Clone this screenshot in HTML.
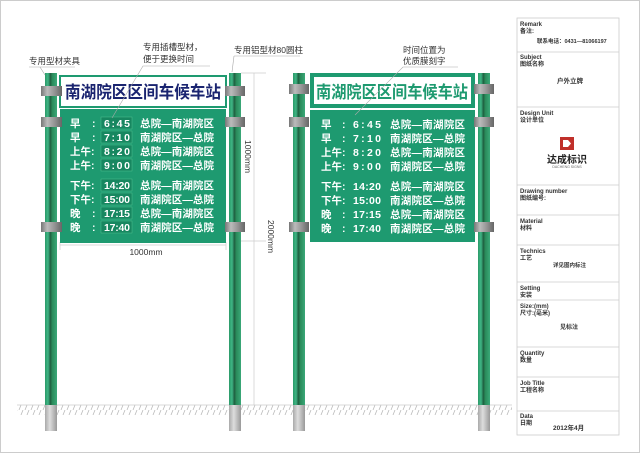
<!DOCTYPE html>
<html><head><meta charset="utf-8"><style>
html,body{margin:0;padding:0;background:#fff;}
svg{display:block;font-family:"Liberation Sans","Noto Sans CJK SC",sans-serif;}
</style></head><body>
<svg width="640" height="453" viewBox="0 0 640 453" xmlns="http://www.w3.org/2000/svg">
<defs>
<linearGradient id="pole" x1="0" x2="1" y1="0" y2="0">
<stop offset="0" stop-color="#2a9a68"/><stop offset="0.25" stop-color="#3fb585"/><stop offset="0.45" stop-color="#1f5e40"/><stop offset="0.6" stop-color="#2a8a5a"/><stop offset="1" stop-color="#3aa878"/>
</linearGradient>
<linearGradient id="clamp" x1="0" x2="1" y1="0" y2="0">
<stop offset="0" stop-color="#777"/><stop offset="0.3" stop-color="#bbb"/><stop offset="0.6" stop-color="#999"/><stop offset="1" stop-color="#666"/>
</linearGradient>
<linearGradient id="base" x1="0" x2="1" y1="0" y2="0">
<stop offset="0" stop-color="#aaa"/><stop offset="0.4" stop-color="#ddd"/><stop offset="1" stop-color="#999"/>
</linearGradient>
<pattern id="hatch" width="6" height="10" patternUnits="userSpaceOnUse">
<line x1="5" y1="0" x2="1" y2="10" stroke="#bbb" stroke-width="0.8"/>
</pattern>
</defs>
<rect x="0.5" y="0.5" width="639" height="452" fill="#fff" stroke="#ccc"/>

<!-- ground -->
<rect x="17" y="405" width="495" height="10" fill="url(#hatch)"/>
<line x1="17" y1="405" x2="512" y2="405" stroke="#ccc" stroke-width="0.8"/>

<!-- poles -->
<g>
<rect x="45" y="73" width="12" height="332" fill="url(#pole)"/>
<rect x="229" y="73" width="12" height="332" fill="url(#pole)"/>
<rect x="293" y="73" width="12" height="332" fill="url(#pole)"/>
<rect x="478" y="73" width="12" height="332" fill="url(#pole)"/>
<rect x="45" y="405" width="12" height="26" fill="url(#base)"/>
<rect x="229" y="405" width="12" height="26" fill="url(#base)"/>
<rect x="293" y="405" width="12" height="26" fill="url(#base)"/>
<rect x="478" y="405" width="12" height="26" fill="url(#base)"/>
</g>

<!-- dimension lines -->
<g stroke="#ccc" stroke-width="0.7" fill="none">
<line x1="254" y1="73" x2="254" y2="241"/>
<line x1="241" y1="73" x2="266" y2="73"/>
<line x1="241" y1="241" x2="266" y2="241"/>
<line x1="254" y1="241" x2="254" y2="405"/>
<line x1="60" y1="245" x2="226" y2="245"/>
<line x1="60" y1="242" x2="60" y2="250"/>
<line x1="226" y1="242" x2="226" y2="250"/>
</g>
<text x="146" y="255" font-size="8.5" fill="#333" text-anchor="middle">1000mm</text>
<text transform="translate(245,140) rotate(90)" font-size="8.5" fill="#333">1000mm</text>
<text transform="translate(268,220) rotate(90)" font-size="8.5" fill="#333">2000mm</text>

<!-- LEFT SIGN -->
<rect x="60" y="76" width="166" height="31" fill="#fff" stroke="#1e9a70" stroke-width="2"/>
<text x="143" y="98" font-size="17" font-weight="bold" fill="#1a2470" text-anchor="middle" textLength="156" lengthAdjust="spacingAndGlyphs">南湖院区区间车候车站</text>
<rect x="60" y="109" width="166" height="131" fill="#1e9a70"/>
<rect x="60" y="240" width="166" height="3" fill="#1e9a70"/>

<!-- RIGHT SIGN -->
<rect x="310" y="73" width="165" height="35" fill="#1e9a70"/>
<rect x="314" y="77" width="157" height="27" fill="#fff"/>
<text x="392" y="98" font-size="17" font-weight="bold" fill="#1e9a70" text-anchor="middle" textLength="152" lengthAdjust="spacingAndGlyphs">南湖院区区间车候车站</text>
<rect x="310" y="110" width="165" height="132" fill="#1e9a70"/>

<!-- clamps -->
<g fill="url(#clamp)">
<rect x="41" y="86" width="21" height="10"/><rect x="41" y="117" width="21" height="10"/><rect x="41" y="222" width="21" height="10"/>
<rect x="225" y="86" width="20" height="10"/><rect x="225" y="117" width="20" height="10"/><rect x="225" y="222" width="20" height="10"/>
<rect x="289" y="84" width="20" height="10"/><rect x="289" y="117" width="20" height="10"/><rect x="289" y="222" width="20" height="10"/>
<rect x="474" y="84" width="20" height="10"/><rect x="474" y="117" width="20" height="10"/><rect x="474" y="222" width="20" height="10"/>
</g>

<!-- rows left -->
<g font-size="10.5" font-weight="bold" fill="#fff">
<g fill="#178760" stroke="#4fbf8f" stroke-width="0.5">
<rect x="101" y="117" width="31" height="12"/><rect x="101" y="131" width="31" height="12"/><rect x="101" y="145" width="31" height="12"/><rect x="101" y="159" width="31" height="12"/>
<rect x="101" y="179" width="31" height="12"/><rect x="101" y="193" width="31" height="12"/><rect x="101" y="207" width="31" height="12"/><rect x="101" y="221" width="31" height="12"/>
</g>
<text x="70" y="127">早</text><text x="92" y="127">:</text><text x="104" y="127" textLength="26">6:45</text><text x="140" y="127" textLength="74">总院—南湖院区</text>
<text x="70" y="141">早</text><text x="92" y="141">:</text><text x="104" y="141" textLength="26">7:10</text><text x="140" y="141" textLength="74">南湖院区—总院</text>
<text x="70" y="155">上午:</text><text x="104" y="155" textLength="26">8:20</text><text x="140" y="155" textLength="74">总院—南湖院区</text>
<text x="70" y="169">上午:</text><text x="104" y="169" textLength="26">9:00</text><text x="140" y="169" textLength="74">南湖院区—总院</text>
<text x="70" y="189">下午:</text><text x="104" y="189" textLength="26">14:20</text><text x="140" y="189" textLength="74">总院—南湖院区</text>
<text x="70" y="203">下午:</text><text x="104" y="203" textLength="26">15:00</text><text x="140" y="203" textLength="74">南湖院区—总院</text>
<text x="70" y="217">晚</text><text x="92" y="217">:</text><text x="104" y="217" textLength="26">17:15</text><text x="140" y="217" textLength="74">总院—南湖院区</text>
<text x="70" y="231">晚</text><text x="92" y="231">:</text><text x="104" y="231" textLength="26">17:40</text><text x="140" y="231" textLength="74">南湖院区—总院</text>
</g>

<!-- rows right -->
<g font-size="10.5" font-weight="bold" fill="#fff">
<text x="321" y="128">早</text><text x="342" y="128">:</text><text x="353" y="128" textLength="28">6:45</text><text x="390" y="128" textLength="75">总院—南湖院区</text>
<text x="321" y="142">早</text><text x="342" y="142">:</text><text x="353" y="142" textLength="28">7:10</text><text x="390" y="142" textLength="75">南湖院区—总院</text>
<text x="321" y="156">上午:</text><text x="353" y="156" textLength="28">8:20</text><text x="390" y="156" textLength="75">总院—南湖院区</text>
<text x="321" y="170">上午:</text><text x="353" y="170" textLength="28">9:00</text><text x="390" y="170" textLength="75">南湖院区—总院</text>
<text x="321" y="190">下午:</text><text x="353" y="190" textLength="28">14:20</text><text x="390" y="190" textLength="75">总院—南湖院区</text>
<text x="321" y="204">下午:</text><text x="353" y="204" textLength="28">15:00</text><text x="390" y="204" textLength="75">南湖院区—总院</text>
<text x="321" y="218">晚</text><text x="342" y="218">:</text><text x="353" y="218" textLength="28">17:15</text><text x="390" y="218" textLength="75">总院—南湖院区</text>
<text x="321" y="232">晚</text><text x="342" y="232">:</text><text x="353" y="232" textLength="28">17:40</text><text x="390" y="232" textLength="75">南湖院区—总院</text>
</g>

<!-- annotations -->
<g font-size="8.5" fill="#333">
<text x="29" y="64">专用型材夹具</text>
<text x="143" y="50">专用插槽型材，</text>
<text x="143" y="62">便于更换时间</text>
<text x="234" y="53">专用铝型材80圆柱</text>
<text x="403" y="53">时间位置为</text>
<text x="403" y="64">优质膜刻字</text>
</g>
<g stroke="#aaa" stroke-width="0.6" fill="none">
<polyline points="29,67 75,67"/><line x1="45" y1="75" x2="40" y2="67"/>
<polyline points="210,66 143,66 112,118"/>
<polyline points="234,56 300,56"/><line x1="234" y1="56" x2="232" y2="72"/>
<polyline points="458,67 403,67 355,115"/>
</g>

<!-- title block -->
<g stroke="#ccc" stroke-width="0.8" fill="none">
<rect x="517" y="18" width="102" height="417"/>
<line x1="517" y1="52" x2="619" y2="52"/><line x1="517" y1="107" x2="619" y2="107"/>
<line x1="517" y1="185" x2="619" y2="185"/><line x1="517" y1="215" x2="619" y2="215"/>
<line x1="517" y1="245" x2="619" y2="245"/><line x1="517" y1="282" x2="619" y2="282"/>
<line x1="517" y1="300" x2="619" y2="300"/><line x1="517" y1="347" x2="619" y2="347"/>
<line x1="517" y1="377" x2="619" y2="377"/><line x1="517" y1="411" x2="619" y2="411"/>
</g>
<g font-size="6" font-weight="bold" fill="#333">
<text x="520" y="26">Remark</text><text x="520" y="33">备注:</text>
<text x="537" y="43" font-size="5.5">联系电话：0431—81066197</text>
<text x="520" y="59">Subject</text><text x="520" y="66">图纸名称</text>
<text x="557" y="83" font-size="6.5">户外立牌</text>
<text x="520" y="115">Design Unit</text><text x="520" y="122">设计单位</text>
<text x="520" y="193">Drawing number</text><text x="520" y="200">图纸编号:</text>
<text x="520" y="223">Material</text><text x="520" y="230">材料</text>
<text x="520" y="253">Technics</text><text x="520" y="260">工艺</text>
<text x="553" y="267" font-size="5.5">详见图内标注</text>
<text x="520" y="282" dy="8">Setting</text><text x="520" y="297">安装</text>
<text x="520" y="308">Size:(mm)</text><text x="520" y="315">尺寸:(毫米)</text>
<text x="560" y="329" font-size="6">见标注</text>
<text x="520" y="355">Quantity</text><text x="520" y="362">数量</text>
<text x="520" y="385">Job Title</text><text x="520" y="392">工程名称</text>
<text x="520" y="418">Data</text><text x="520" y="425">日期</text>
<text x="553" y="430" font-size="6.5">2012年4月</text>
</g>
<!-- logo -->
<rect x="560" y="137" width="14" height="13" fill="#c0302a"/>
<path d="M563 140 h5 l3 3.5 l-3 3.5 h-5 z" fill="#fff"/>
<text x="567" y="163" font-size="10" font-weight="bold" fill="#222" text-anchor="middle">达成标识</text>
<text x="567" y="168" font-size="3.5" fill="#666" text-anchor="middle">DACHENG SIGNS</text>
</svg>
</body></html>
